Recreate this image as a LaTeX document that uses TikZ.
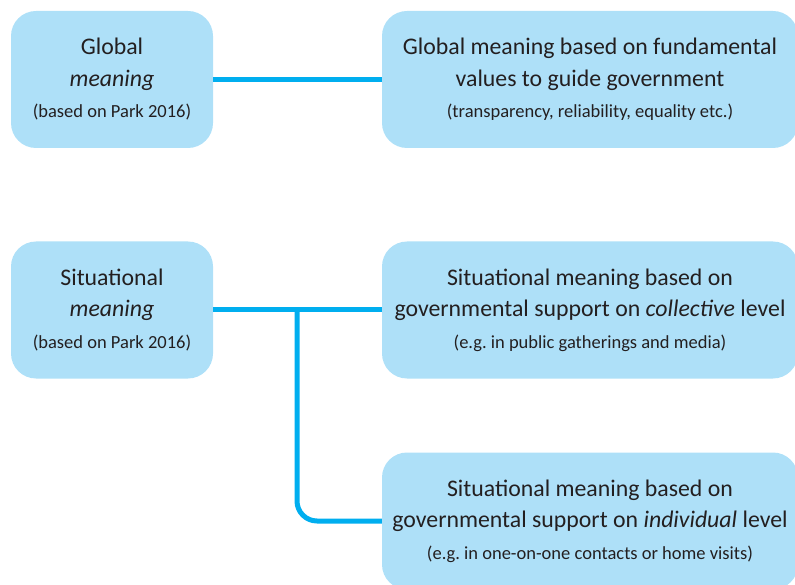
\documentclass[tikz,border=0pt]{standalone}
\usepackage{fontspec}
\setmainfont{Carlito}
\usepackage{tikz}
\usetikzlibrary{positioning, calc}

\definecolor{boxblue}{HTML}{AEE0F8}
\definecolor{linkblue}{HTML}{00AEEF}
\definecolor{inktext}{HTML}{231F20}

\newcommand{\bigline}{\fontsize{23.8}{31.5}\selectfont}
\newcommand{\smallline}{\fontsize{18.5}{22}\selectfont}
\frenchspacing

\tikzset{
  meaningbox/.style={fill=boxblue, rounded corners=25pt, align=center, text=inktext,
    font=\bigline, inner sep=0pt},
  leftbox/.style={meaningbox, minimum width=202pt, minimum height=137pt},
  rightbox/.style={meaningbox, minimum width=416pt, minimum height=137pt},
  link/.style={draw=linkblue, line width=5pt}
}

\begin{document}
\begin{tikzpicture}[x=1pt, y=-1pt]
\useasboundingbox (0,0) rectangle (795,585);
\clip (0,0) rectangle (795,585);

% global meaning row
\node[leftbox] (global) at (112,79.5) {Global\\\textit{meaning}\\[0pt]{\smallline (based on Park 2016)}};
\node[rightbox] (globalval) at (590,79.5) {Global meaning based on fundamental\\values to guide government\\[0pt]{\smallline (transparency, reliability, equality etc.)}};

% situational meaning rows
\node[leftbox] (situ) at (112,310) {Situational\\\textit{meaning}\\[0pt]{\smallline (based on Park 2016)}};
\node[rightbox] (situcoll) at (590,310) {Situational meaning based on\\governmental support on \textit{collective} level\\[0pt]{\smallline (e.g. in public gatherings and media)}};
\node[rightbox] (situindv) at (590,521) {Situational meaning based on\\governmental support on \textit{individual} level\\[0pt]{\smallline (e.g. in one-on-one contacts or home visits)}};

\draw[link] (global) -- (globalval);
\draw[link] (situ) -- (situcoll);
\coordinate (fork) at (297,310);
\draw[link, rounded corners=20pt] (fork) |- (situindv.west);
\end{tikzpicture}
\end{document}
